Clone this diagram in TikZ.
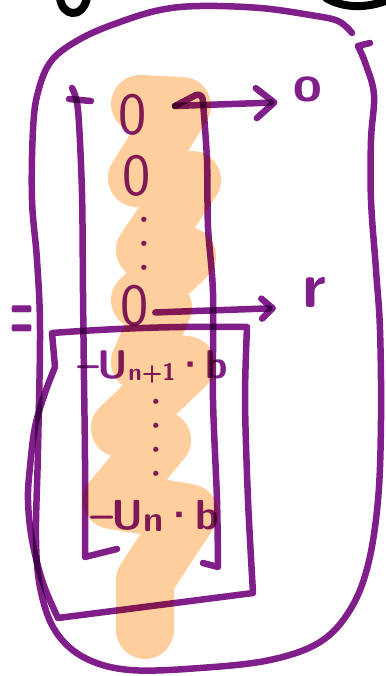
\documentclass[tikz,border=0pt]{standalone}
\usepackage{fontspec}
\newfontfamily\dotfont{DejaVu Sans}
\usetikzlibrary{arrows.meta}
\definecolor{inkpurple}{RGB}{128,30,138}
\definecolor{hilite}{RGB}{254,206,156}

\begin{document}
\begin{tikzpicture}[x=1pt,y=-1pt,
    ink/.style={draw=inkpurple,line width=6.5pt,line cap=round,line join=round},
    lbl/.style={text=inkpurple,inner sep=0pt,font=\sffamily},
    bigarr/.style={ink,-{Straight Barb[round,length=18pt,width=30pt]}},
    smallarr/.style={ink,-{Straight Barb[round,length=11pt,width=20pt]}}]
  \useasboundingbox (0,0) rectangle (385,676);

  % ---- highlighter stroke down the column ---------------------------------
  \draw[hilite,line width=58pt,line cap=round,line join=round]
    (140,104) -- (182,106) -- (137,178) -- (192,180) -- (145,250) -- (187,256)
    -- (140,300) -- (163,308) -- (140,362) -- (186,365) -- (120,428) -- (162,440)
    -- (112,500) -- (189,513) -- (145,580) -- (145,630);

  % ---- black strokes cut off at the top -----------------------------------
  \draw[black,line width=8pt,line cap=round] (60,-2) .. controls (62,16) and (82,20) .. (87,-2);
  \draw[black,line width=8pt,line cap=round] (326,-2) .. controls (345,9) and (368,8) .. (388,0);

  \begin{scope}[blend mode=multiply]
  % ---- outer rounded outline ----------------------------------------------
  \draw[ink] (370,43) -- (358,46)
    plot[smooth,tension=0.6] coordinates {(358,46) (366,65) (374,95) (371,140) (371,200)
      (376,270) (380,330) (381,420) (378,500) (368,565) (350,610) (320,642) (270,660)
      (200,668) (130,670) (85,658) (56,632) (41,592) (36,540) (38,450) (40,330) (37,260)
      (32,200) (33,130) (38,92) (52,60) (82,38) (120,22) (160,10) (200,6) (260,8)
      (310,15) (338,21) (352,33)};

  % ---- tall box round the column ------------------------------------------
  \coordinate (seven) at (175,106);
  \draw[ink] (69,99) -- (91,101);
  \draw[ink] plot[smooth,tension=0.5] coordinates {(72,88) (78,110) (82,193) (83,293)
      (84,380) (85,460) (85,557)} -- (117,549);
  \draw[ink] (seven) -- (196,95) .. controls (201,94) and (203,97) .. (203,102)
    plot[smooth,tension=0.5] coordinates {(203,102) (207,160) (208,227) (213,293)
      (213,400) (217,500) (218,567)} -- (203,563);

  % ---- lower box ----------------------------------------------------------
  \draw[ink] (52,333) .. controls (120,328) and (180,326) .. (247,327)
    plot[smooth,tension=0.5] coordinates {(247,327) (245,400) (248,500) (253,593)}
    -- (58,618)
    plot[smooth,tension=0.6] coordinates {(58,618) (43,583) (32,540) (28,500)
      (30,467) (35,427) (45,393) (55,367)} -- (52,333);

  % ---- column entries ------------------------------------------------------
  \node[lbl,font=\sffamily\fontsize{60}{60}\selectfont] (zeroA) at (133,115) {0};
  \node[lbl,font=\sffamily\fontsize{60}{60}\selectfont] (zeroB) at (137,176) {0};
  \node[lbl,align=center,font=\dotfont\fontsize{18}{24}\selectfont] (dotsA) at (144,246) {•\\•\\•};
  \node[lbl,font=\sffamily\fontsize{60}{60}\selectfont] (zeroC) at (135,306) {0};
  \node[lbl,font=\sffamily\bfseries\fontsize{40}{40}\selectfont] (uNext) at (153,367)
    {--\kern-2pt U\raisebox{-2pt}{\fontsize{24}{24}\selectfont n+1}\kern-2pt·\kern-2pt b};
  \node[lbl,align=center,font=\dotfont\fontsize{18}{24}\selectfont] (dotsB) at (156,440) {•\\•\\•\\•};
  \node[lbl,font=\sffamily\bfseries\fontsize{42}{42}\selectfont] (uLast) at (155,516)
    {--\kern-2pt U\raisebox{-2pt}{\fontsize{36}{36}\selectfont n}\kern-2pt·\kern-2pt b};

  % ---- outputs ---------------------------------------------------------------
  \node[lbl,font=\sffamily\bfseries\fontsize{52}{52}\selectfont] (oOut) at (308,89) {o};
  \node[lbl,font=\sffamily\bfseries\fontsize{64}{64}\selectfont] (rOut) at (314,292) {r};
  \node[lbl,font=\sffamily\bfseries\fontsize{36}{36}\selectfont] (eqSign) at (22,323) {\scalebox{0.75}[2.3]{=}};

  \draw[bigarr,shorten >=16pt] (seven) -- (oOut.south west);
  \draw[smallarr,shorten <=6pt,shorten >=26pt] (zeroC.-25) -- (rOut.south west);
  \end{scope}
\end{tikzpicture}
\end{document}
